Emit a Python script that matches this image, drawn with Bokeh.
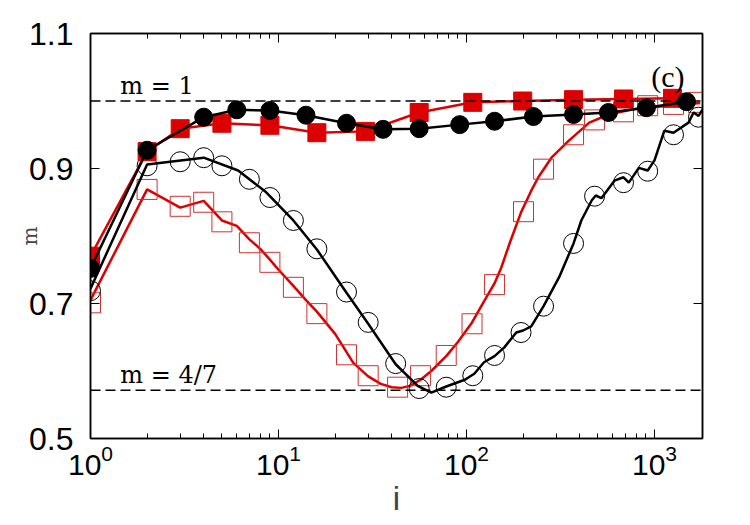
from bokeh.plotting import figure
from bokeh.models import LogAxis, LinearAxis, FixedTicker, Span, Label, Range1d
from bokeh.embed import file_html
from bokeh.resources import INLINE

# ---- data ----
fr_i = [1, 2, 3, 5, 9, 16, 29, 56, 108, 199, 371, 684, 1247]
fr_m = [0.770, 0.925, 0.959, 0.967, 0.964, 0.953, 0.955, 0.983, 0.998, 1.000, 1.002, 1.003, 1.004]

fb_i = [1, 2, 4, 6, 9, 14, 23, 36, 56, 92, 141, 227, 371, 569, 906, 1480]
fb_m = [0.752, 0.927, 0.976, 0.987, 0.986, 0.979, 0.967, 0.958, 0.959, 0.965, 0.970, 0.977, 0.980, 0.983, 0.990, 0.999]

or_i = [1, 2, 3, 4, 5, 7, 9, 12, 16, 23, 30, 43, 57, 78, 107, 141, 201, 257, 371, 480, 684, 920, 1262, 1714]
or_m = [0.701, 0.869, 0.844, 0.850, 0.821, 0.790, 0.761, 0.724, 0.685, 0.624, 0.593, 0.576, 0.593, 0.623,
        0.670, 0.728, 0.836, 0.899, 0.950, 0.972, 0.984, 0.993, 0.995, 0.998]
orl_i = [1, 2, 3, 4, 5, 6, 7, 8, 9, 10, 12, 14, 16, 20, 25, 30, 35, 40, 45, 50, 57, 65, 78, 90, 107,
         125, 141, 153, 170, 195, 220, 241, 283, 349, 450, 570, 780, 1200, 1750]
orl_m = [0.705, 0.869, 0.842, 0.852, 0.823, 0.815, 0.795, 0.781, 0.765, 0.750, 0.726, 0.705, 0.688,
         0.655, 0.612, 0.592, 0.581, 0.576, 0.575, 0.578, 0.587, 0.600, 0.622, 0.643, 0.672, 0.705,
         0.730, 0.753, 0.790, 0.835, 0.866, 0.887, 0.916, 0.941, 0.968, 0.980, 0.988, 0.993, 0.997]

ob_i = [1, 2, 3, 4, 5, 7, 9, 12, 16, 23, 30, 42, 56, 78, 108, 141, 195, 257, 371, 480, 684, 920, 1262, 1714]
ob_m = [0.719, 0.904, 0.910, 0.916, 0.904, 0.884, 0.857, 0.823, 0.781, 0.717, 0.672, 0.611, 0.574, 0.576,
        0.593, 0.623, 0.657, 0.696, 0.789, 0.859, 0.879, 0.896, 0.950, 0.976]
obl_i = [1, 2, 4, 6.1, 8.5, 12, 16, 23, 30, 42, 55, 65, 78, 98, 110, 124, 141, 159, 184, 200, 221, 257,
         311, 371, 408, 464, 487, 522, 612, 684, 730, 825, 920, 1000, 1128, 1262, 1517, 1614, 1714, 1800]
obl_m = [0.722, 0.906, 0.916, 0.897, 0.866, 0.823, 0.780, 0.716, 0.670, 0.610, 0.578, 0.568, 0.577, 0.587,
         0.596, 0.613, 0.622, 0.635, 0.657, 0.660, 0.666, 0.696, 0.739, 0.789, 0.823, 0.853, 0.860, 0.856,
         0.882, 0.887, 0.879, 0.901, 0.897, 0.912, 0.956, 0.953, 0.968, 0.983, 0.978, 0.987]

ref_lines = [1.0, 4 / 7]
ref_texts = ["m = 1", "m = 4/7"]
x_ticks = [1, 10, 100, 1000]
x_minor = [k * 10 ** e for e in range(0, 4) for k in range(2, 10)]
y_ticks = [0.5, 0.7, 0.9, 1.1]

RED = "#dd0000"

p = figure(x_axis_type="log", x_range=Range1d(1, 1800), y_range=Range1d(0.5, 1.1),
           frame_width=612, frame_height=405, output_backend="svg", toolbar_location=None,
           min_border_left=90, min_border_top=33, min_border_right=40, min_border_bottom=60,
           background_fill_color="white", border_fill_color="white")
p.grid.visible = False
p.outline_line_color = "black"
p.outline_line_width = 1.5

def style_axis(ax, labels=True):
    ax.axis_line_color = "black"
    ax.axis_line_width = 1.5
    ax.major_tick_in = 9
    ax.major_tick_out = 0
    ax.minor_tick_in = 5
    ax.minor_tick_out = 0
    ax.major_tick_line_color = "black"
    ax.minor_tick_line_color = "black"
    ax.major_tick_line_width = 1
    ax.minor_tick_line_width = 1
    ax.major_label_text_font = "Liberation Sans"
    if labels:
        ax.major_label_text_font_size = "30px"
        ax.major_label_text_color = "black"
        ax.major_label_standoff = 14
    else:
        ax.major_label_text_font_size = "6px"
        ax.major_label_text_alpha = 0.0
        ax.major_label_standoff = 0

xt = FixedTicker(ticks=x_ticks, minor_ticks=x_minor)
yt = FixedTicker(ticks=y_ticks, minor_ticks=[])

p.xaxis.ticker = xt
p.yaxis.ticker = yt
style_axis(p.xaxis[0])
style_axis(p.yaxis[0])
p.yaxis.major_label_text_font_size = "32px"
p.yaxis.major_label_standoff = 17
p.xaxis.major_label_standoff = 6

p.xaxis.axis_label = "i"
p.xaxis.axis_label_text_font = "Liberation Sans"
p.xaxis.axis_label_text_font_style = "normal"
p.xaxis.axis_label_text_font_size = "33px"
p.xaxis.axis_label_standoff = 2
p.yaxis.axis_label = "m"
p.yaxis.axis_label_text_font = "DejaVu Serif"
p.yaxis.axis_label_text_font_style = "normal"
p.yaxis.axis_label_text_font_size = "20px"
p.yaxis.axis_label_standoff = -16

top = LogAxis(ticker=xt)
style_axis(top, labels=False)
p.add_layout(top, "above")
right = LinearAxis(ticker=yt)
style_axis(right, labels=False)
p.add_layout(right, "right")

for yv in ref_lines:
    p.add_layout(Span(location=yv, dimension="width", line_color="black",
                      line_width=1.5, line_dash="10 5"))

for yv, t in zip(ref_lines, ref_texts):
    p.add_layout(Label(x=1.44, y=yv, y_offset=1, text=t, text_font="DejaVu Serif",
                       text_font_size="24px", text_baseline="bottom", text_color="black"))
p.add_layout(Label(x=960, y=1.036, text="(c)", text_font="Liberation Serif",
                   text_font_size="30px", text_baseline="alphabetic", text_color="black"))

# open red squares
p.line(orl_i, orl_m, line_color=RED, line_width=2.5)
p.scatter(or_i, or_m, marker="square", size=20, fill_color=None, line_color="#d03030", line_width=1)
# open black circles
p.line(obl_i, obl_m, line_color="black", line_width=2.5)
p.scatter(ob_i, ob_m, marker="circle", size=20, fill_color=None, line_color="black", line_width=1)
# filled red squares
p.line(fr_i, fr_m, line_color=RED, line_width=2.5)
p.scatter(fr_i, fr_m, marker="square", size=18, fill_color=RED, line_color=RED)
# filled black circles
p.line(fb_i, fb_m, line_color="black", line_width=2.5)
p.scatter(fb_i, fb_m, marker="circle", size=18, fill_color="black", line_color="black")

open("out.html", "w").write(file_html(p, INLINE))
